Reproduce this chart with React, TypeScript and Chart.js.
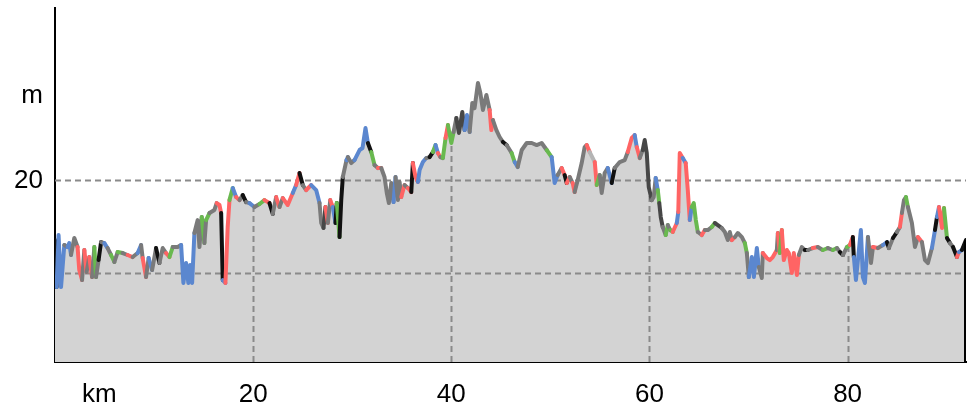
import React, { useEffect, useRef } from 'react';
import { Chart, registerables } from 'chart.js';

Chart.register(...registerables);

// distance along the route (km)
const kmValues: number[] = [
  0.00, 0.16, 0.36, 0.61, 0.94, 1.27, 1.44, 1.62, 1.95, 2.28,
  2.45, 2.73, 2.96, 3.19, 3.46, 3.74, 3.97, 4.14, 4.40, 4.65,
  4.98, 5.31, 5.66, 5.99, 6.32, 6.83, 7.33, 7.84, 8.34, 8.69,
  8.85, 9.19, 9.45, 9.80, 10.20, 10.54, 10.87, 11.21, 11.55, 11.88,
  12.38, 12.73, 12.96, 13.23, 13.46, 13.64, 13.84, 14.07, 14.40, 14.58,
  14.81, 15.08, 15.25, 15.59, 16.09, 16.32, 16.60, 16.77, 16.93, 17.20,
  17.43, 17.61, 17.94, 18.28, 18.62, 18.95, 19.29, 19.63, 20.13, 20.64,
  21.14, 21.65, 21.98, 22.32, 22.66, 22.99, 23.49, 24.00, 24.34, 24.68,
  25.01, 25.35, 25.86, 26.36, 26.70, 26.87, 27.10, 27.30, 27.54, 27.78,
  28.04, 28.31, 28.44, 28.72, 28.89, 29.05, 29.42, 29.56, 29.90, 30.23,
  30.74, 31.04, 31.34, 31.58, 31.92, 32.25, 32.59, 32.93, 33.26, 33.49,
  33.70, 33.94, 34.17, 34.37, 34.61, 34.78, 34.95, 35.28, 35.62, 35.96,
  36.12, 36.39, 36.63, 36.80, 37.13, 37.47, 37.81, 38.14, 38.41, 38.65,
  38.89, 39.15, 39.42, 39.66, 40.00, 40.23, 40.51, 40.77, 41.11, 41.34,
  41.58, 41.85, 42.12, 42.35, 42.69, 42.93, 43.19, 43.54, 43.87, 44.04,
  44.20, 44.55, 44.88, 45.21, 45.59, 46.09, 46.40, 46.70, 47.11, 47.61,
  48.12, 48.62, 49.12, 49.63, 50.13, 50.43, 50.74, 51.14, 51.44, 51.65,
  51.95, 52.25, 52.45, 52.76, 53.16, 53.46, 53.67, 53.97, 54.48, 54.68,
  54.98, 55.18, 55.48, 55.79, 56.19, 56.49, 57.00, 57.50, 57.81, 58.21,
  58.51, 58.72, 59.02, 59.32, 59.52, 59.73, 59.93, 60.23, 60.43, 60.63,
  60.84, 60.99, 61.14, 61.34, 61.64, 61.85, 62.10, 62.35, 62.76, 62.91,
  63.06, 63.36, 63.66, 63.87, 64.07, 64.27, 64.47, 64.68, 64.88, 65.28,
  65.59, 65.89, 66.29, 66.60, 66.90, 67.30, 67.61, 67.91, 68.11, 68.31,
  68.62, 68.92, 69.33, 69.63, 69.83, 70.03, 70.33, 70.54, 70.84, 71.04,
  71.34, 71.44, 71.85, 72.15, 72.45, 72.86, 72.96, 73.16, 73.36, 73.56,
  73.87, 74.07, 74.37, 74.57, 74.88, 75.08, 75.38, 75.68, 75.99, 76.49,
  76.99, 77.50, 78.01, 78.51, 78.92, 79.22, 79.53, 79.93, 80.23, 80.53,
  80.63, 80.84, 81.04, 81.34, 81.54, 81.75, 82.05, 82.36, 82.56, 83.06,
  83.57, 83.97, 84.17, 84.58, 84.98, 85.28, 85.48, 85.69, 85.89, 86.09,
  86.49, 86.80, 87.10, 87.50, 87.81, 88.11, 88.51, 88.82, 89.02, 89.22,
  89.53, 89.73, 90.03, 90.33, 90.64, 91.04, 91.24, 91.54, 91.95,
];

// elevation (m)
const elevationValues: number[] = [
  13.54, 8.45, 14.08, 8.45, 13.00, 12.78, 13.21, 11.92, 13.76, 12.78,
  10.29, 9.21, 12.46, 10.08, 11.70, 9.53, 12.78, 9.53, 11.37, 13.32,
  13.21, 12.67, 11.92, 11.16, 12.24, 12.13, 11.92, 11.70, 12.13, 13.00,
  11.59, 9.53, 11.59, 10.29, 12.67, 11.05, 12.67, 12.13, 11.70, 12.78,
  12.78, 13.00, 8.89, 11.05, 8.89, 10.83, 8.89, 14.30, 15.70, 12.78,
  16.03, 13.21, 15.70, 16.46, 16.79, 17.54, 17.33, 16.46, 9.21, 8.89,
  14.95, 17.86, 19.17, 18.19, 17.86, 18.41, 17.65, 17.54, 17.11, 17.44,
  17.86, 17.54, 16.36, 18.19, 17.11, 18.08, 17.33, 18.63, 19.49, 20.79,
  19.49, 18.95, 19.49, 18.95, 17.54, 15.38, 14.84, 17.11, 15.38, 17.86,
  17.11, 15.38, 17.54, 13.86, 17.86, 20.36, 22.19, 22.52, 21.87, 22.19,
  23.28, 23.50, 25.66, 24.04, 23.06, 21.66, 21.33, 21.33, 20.36, 18.63,
  17.54, 19.71, 17.65, 20.36, 17.86, 19.82, 18.19, 19.49, 19.17, 18.73,
  21.87, 20.36, 19.82, 21.11, 21.98, 22.41, 22.52, 23.06, 23.82, 22.95,
  22.52, 22.41, 24.58, 25.98, 24.04, 25.23, 26.74, 25.12, 27.39, 25.44,
  27.07, 25.23, 28.37, 27.82, 30.53, 29.45, 27.61, 29.23, 27.61, 25.44,
  26.52, 25.44, 24.69, 24.15, 23.82, 22.95, 21.98, 21.44, 23.28, 24.04,
  24.04, 23.82, 24.04, 23.28, 22.52, 19.71, 20.57, 21.33, 20.57, 19.71,
  20.36, 19.71, 18.73, 20.03, 21.87, 23.60, 23.82, 23.06, 21.98, 19.49,
  20.57, 18.63, 20.79, 21.33, 19.71, 21.33, 21.98, 22.19, 23.06, 24.58,
  24.90, 23.60, 22.41, 23.28, 24.36, 22.95, 19.27, 17.86, 18.19, 20.25,
  18.95, 17.54, 16.03, 14.95, 14.08, 15.16, 14.62, 14.41, 15.38, 16.57,
  22.95, 22.41, 21.87, 18.95, 15.70, 17.11, 17.54, 15.70, 14.41, 14.08,
  14.62, 14.62, 14.95, 15.38, 15.16, 14.84, 14.41, 13.54, 14.41, 13.54,
  13.86, 14.30, 13.86, 13.21, 12.13, 9.53, 11.70, 9.53, 12.67, 10.62,
  9.43, 12.13, 11.59, 11.37, 11.70, 12.46, 14.30, 12.13, 14.62, 11.37,
  12.46, 12.13, 9.97, 12.13, 9.75, 11.92, 12.78, 12.46, 12.46, 12.67,
  12.78, 12.46, 12.67, 12.46, 12.67, 12.24, 11.92, 12.78, 13.00, 13.86,
  11.70, 9.21, 11.37, 14.62, 9.53, 8.89, 13.86, 11.05, 12.78, 12.67,
  13.00, 13.32, 12.67, 13.76, 14.41, 14.95, 16.46, 17.86, 18.19, 17.11,
  15.38, 12.78, 13.86, 13.32, 11.37, 11.05, 12.67, 14.62, 16.03, 17.11,
  14.84, 17.00, 13.76, 13.21, 12.78, 11.70, 12.24, 12.46, 13.54,
];

// colour class of the line segment that starts at each point
const segmentClasses: string[] = [
  'k','b','b','b','g','b','b','g','g','r',
  'r','g','r','g','r','g','n','g','k','g',
  'b','g','n','g','n','g','r','g','b','g',
  'r','g','b','g','k','g','g','r','n','g',
  'g','b','b','b','b','b','b','g','g','g',
  'n','g','n','g','g','r','r','k','b','r',
  'r','n','b','r','g','k','g','b','g','n',
  'r','k','g','r','g','r','r','b','r','k',
  'g','r','b','b','g','g','d','r','g','r',
  'b','k','n','k','k','g','b','g','g','b',
  'b','b','b','k','n','g','r','g','g','g',
  'g','g','b','g','g','g','r','g','r','k',
  'r','r','b','b','b','g','k','n','b','r',
  'g','n','r','n','n','g','d','d','d','b',
  'b','g','g','g','g','g','g','g','r','r',
  'g','g','g','k','g','n','b','g','g','g',
  'g','g','g','n','b','b','g','r','k','r',
  'g','r','g','g','g','g','r','l','r','n',
  'g','g','g','b','k','g','g','g','r','r',
  'b','r','g','d','d','d','d','g','g','b',
  'n','d','d','g','n','g','n','r','b','r',
  'r','b','r','r','b','n','n','n','g','r',
  'g','g','n','d','d','g','g','g','g','r',
  'g','g','g','n','g','b','b','b','b','g',
  'g','r','r','r','r','g','r','n','r','r',
  'r','r','r','r','r','g','g','k','g','r',
  'g','n','g','n','g','k','g','n','r','k',
  'b','b','b','b','b','b','g','g','r','g',
  'b','k','g','k','g','r','g','g','n','g',
  'g','g','r','g','g','g','b','k','b','r',
  'r','n','k','g','k','r','b','k','g',
];

const classColors: Record<string, string> = {
  g: '#7a7a7a',
  d: '#474747',
  k: '#111111',
  r: '#ff6464',
  n: '#69b94f',
  b: '#5b87cf',
  l: '#b4b4b4',
};

const xTickValues = [4.47, 20, 40, 60, 80];
const xTickLabels = ['km', '20', '40', '60', '80'];
const yTickValues = [20, 29.1];
const yTickLabels = ['20', 'm'];
const yGridValues = [10, 20];
const xGridValues = [20, 40, 60, 80];

const X_MIN = 0;
const X_MAX = 91.95;
const Y_MIN = 0.34;
const Y_MAX = 38.65;

function elevationAt(km: number): number {
  for (let i = 1; i < kmValues.length; i++) {
    if (kmValues[i] >= km) {
      const x0 = kmValues[i - 1];
      const x1 = kmValues[i];
      const t = x1 === x0 ? 0 : (km - x0) / (x1 - x0);
      return elevationValues[i - 1] + t * (elevationValues[i] - elevationValues[i - 1]);
    }
  }
  return elevationValues[elevationValues.length - 1];
}

const profileGridPlugin = {
  id: 'profileGrid',
  afterDatasetDraw(chart: any, args: any) {
    if (args.index !== 0) return;
    const { ctx, chartArea, scales } = chart;
    const xs = scales.x;
    const ys = scales.y;
    ctx.save();
    ctx.beginPath();
    ctx.rect(chartArea.left, chartArea.top, chartArea.right - chartArea.left, chartArea.bottom - chartArea.top);
    ctx.clip();
    ctx.strokeStyle = '#8a8a8a';
    ctx.lineWidth = 2;
    ctx.setLineDash([6, 4]);
    for (const v of yGridValues) {
      const y = Math.round(ys.getPixelForValue(v)) + 0.5;
      ctx.beginPath();
      ctx.moveTo(chartArea.left, y);
      ctx.lineTo(chartArea.right, y);
      ctx.stroke();
    }
    for (const v of xGridValues) {
      const x = Math.round(xs.getPixelForValue(v)) + 0.5;
      const top = ys.getPixelForValue(elevationAt(v));
      ctx.beginPath();
      ctx.moveTo(x, chartArea.bottom);
      ctx.lineTo(x, top);
      ctx.stroke();
    }
    ctx.restore();
  },
  afterDatasetsDraw(chart: any) {
    const { ctx, chartArea, scales } = chart;
    const last = kmValues.length - 1;
    const x = scales.x.getPixelForValue(kmValues[last]);
    const y = scales.y.getPixelForValue(elevationValues[last]);
    ctx.save();
    ctx.strokeStyle = '#000';
    ctx.lineWidth = 2;
    ctx.beginPath();
    ctx.moveTo(x - 1, y);
    ctx.lineTo(x - 1, chartArea.bottom);
    ctx.stroke();
    ctx.restore();
  },
};

export default function App() {
  const canvasRef = useRef<HTMLCanvasElement | null>(null);

  useEffect(() => {
    const canvas = canvasRef.current;
    if (!canvas) return;
    Chart.defaults.font.family = '"Liberation Sans", Arial, sans-serif';
    const points = kmValues.map((k, i) => ({ x: k, y: elevationValues[i] }));

    const chart = new Chart(canvas, {
      type: 'line',
      data: {
        datasets: [
          {
            data: points,
            borderWidth: 0,
            pointRadius: 0,
            fill: 'start',
            backgroundColor: '#d3d3d3',
            borderColor: 'rgba(0,0,0,0)',
            order: 1,
            tension: 0,
          },
          {
            data: points,
            borderWidth: 4,
            pointRadius: 0,
            fill: false,
            borderColor: '#7a7a7a',
            borderJoinStyle: 'round',
            borderCapStyle: 'round',
            order: 0,
            tension: 0,
            segment: {
              borderColor: (c: any) => classColors[segmentClasses[c.p0DataIndex]] || '#7a7a7a',
            },
          },
        ],
      },
      plugins: [profileGridPlugin],
      options: {
        animation: false,
        responsive: false,
        events: [],
        layout: { padding: { top: 8, right: 6, left: 0, bottom: 0 } },
        plugins: {
          legend: { display: false },
          tooltip: { enabled: false },
        },
        scales: {
          x: {
            type: 'linear',
            min: X_MIN,
            max: X_MAX,
            z: 1,
            grid: { display: false, drawTicks: false },
            border: { display: true, color: '#000', width: 2 },
            afterFit: (s: any) => {
              s.height = 44;
              s.paddingLeft = 0;
              s.paddingRight = 0;
            },
            afterBuildTicks: (s: any) => { s.ticks = xTickValues.map((v) => ({ value: v })); },
            ticks: {
              autoSkip: false,
              maxRotation: 0,
              padding: 17,
              color: '#000',
              font: { size: 26 },
              callback: (_v: any, i: number) => xTickLabels[i],
            },
          },
          y: {
            type: 'linear',
            min: Y_MIN,
            max: Y_MAX,
            z: 1,
            grid: { display: false, drawTicks: false },
            border: { display: true, color: '#000', width: 2 },
            afterFit: (s: any) => {
              s.width = 55;
              s.paddingTop = 0;
              s.paddingBottom = 0;
            },
            afterBuildTicks: (s: any) => { s.ticks = yTickValues.map((v) => ({ value: v })); },
            ticks: {
              autoSkip: false,
              padding: 12,
              color: '#000',
              font: { size: 26 },
              callback: (_v: any, i: number) => yTickLabels[i],
            },
          },
        },
      } as any,
    });
    return () => chart.destroy();
  }, []);

  return (
    <div style={{ position: 'fixed', left: 0, top: 0, width: 972, height: 406, background: '#fff' }}>
      <canvas ref={canvasRef} width={972} height={406} style={{ width: 972, height: 406, display: 'block' }} />
    </div>
  );
}
